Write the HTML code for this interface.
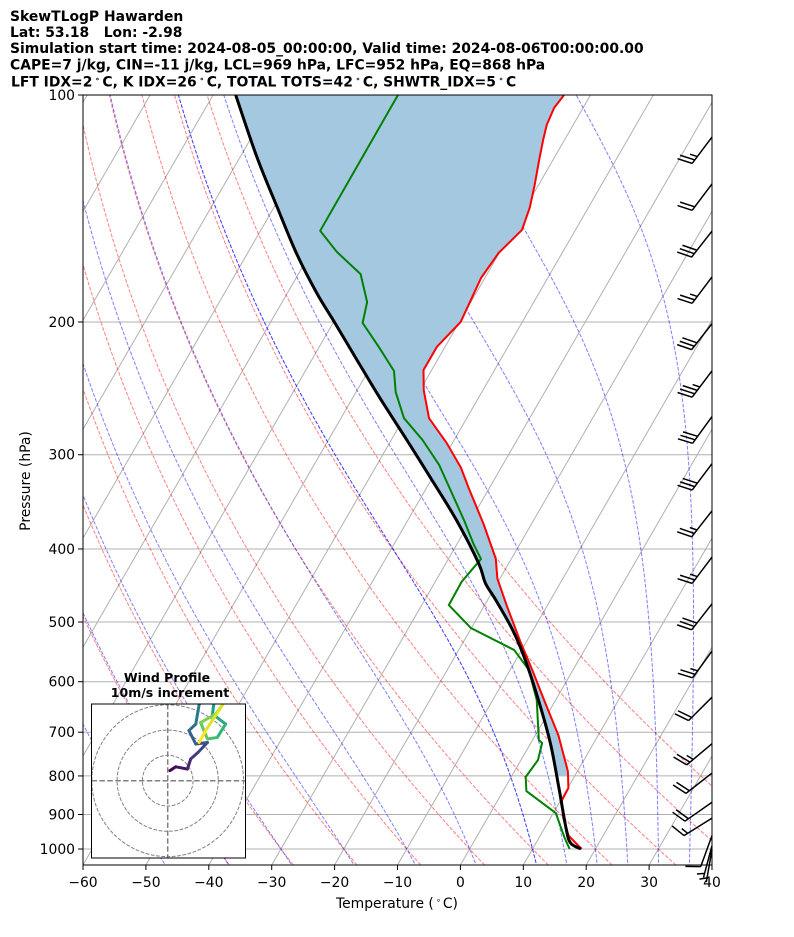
<!DOCTYPE html>
<html><head><meta charset="utf-8">
<style>
html,body{margin:0;padding:0;background:#fff;}
svg{display:block;font-family:"DejaVu Sans","Liberation Sans",sans-serif;}
</style></head>
<body>
<svg id="chart" width="794" height="937" viewBox="0 0 794 937" xmlns="http://www.w3.org/2000/svg">
<defs>
<clipPath id="plotclip"><rect x="83" y="95" width="629" height="770"/></clipPath>
<clipPath id="hodoclip"><rect x="91.5" y="704" width="154" height="154"/></clipPath>
</defs>
<rect x="0" y="0" width="794" height="937" fill="#fff"/>
<g font-weight="bold" font-size="13.9" fill="#000">
<text x="10" y="21">SkewTLogP Hawarden</text>
<text x="10" y="37" xml:space="preserve">Lat: 53.18   Lon: -2.98</text>
<text x="10" y="53">Simulation start time: 2024-08-05_00:00:00, Valid time: 2024-08-06T00:00:00.00</text>
<text x="10" y="69.5">CAPE=7 j/kg, CIN=-11 j/kg, LCL=969 hPa, LFC=952 hPa, EQ=868 hPa</text>
<text x="11" y="86.5">LFT IDX=2<tspan font-size="8" dx="2.5" dy="-5">∘</tspan><tspan dx="2.5" dy="5">C, K IDX=26</tspan><tspan font-size="8" dx="2.5" dy="-5">∘</tspan><tspan dx="2.5" dy="5">C, TOTAL TOTS=42</tspan><tspan font-size="8" dx="2.5" dy="-5">∘</tspan><tspan dx="2.5" dy="5">C, SHWTR_IDX=5</tspan><tspan font-size="8" dx="2.5" dy="-5">∘</tspan><tspan dx="2.5" dy="5">C</tspan></text>
</g>
<g id="grid" clip-path="url(#plotclip)"></g>
<g id="adiabats" clip-path="url(#plotclip)"></g>
<g id="profiles" clip-path="url(#plotclip)"></g>
<rect x="83" y="95" width="629" height="770" fill="none" stroke="#000" stroke-width="1"/>
<g id="axes" font-size="13.9" fill="#000"></g>
<text x="397" y="908" text-anchor="middle" font-size="13.9">Temperature (<tspan font-size="8" dx="2" dy="-5">∘</tspan><tspan dx="2" dy="5">C)</tspan></text>
<text transform="translate(30,481) rotate(-90)" text-anchor="middle" font-size="13.9">Pressure (hPa)</text>
<g id="barbs"></g>
<g id="hodo">
<text x="167" y="682" text-anchor="middle" font-size="12.5" font-weight="bold">Wind Profile</text>
<text x="170" y="697" text-anchor="middle" font-size="12.5" font-weight="bold">10m/s increment</text>
<rect x="91.5" y="704" width="154" height="154" fill="#fff" stroke="none"/>
<g id="hodoinner" clip-path="url(#hodoclip)"></g>
<rect x="91.5" y="704" width="154" height="154" fill="none" stroke="#000" stroke-width="1"/>
</g>
</svg>
<script>
// ---------- data ----------
const tempP = [100,104,109.6,114.7,121.9,131.7,141.2,151,162,174.8,200,215.8,231.6,246.4,268.3,289.5,312,333.3,370.8,412,438,475,530,582,640,707,789,830,863,911,960,1000];
const tempT = [-54.2,-54.6,-54.2,-53.4,-52.2,-50.6,-49.3,-48.5,-50.1,-50.6,-49.8,-51.3,-51.3,-49.4,-46.0,-40.9,-36.4,-33.1,-27.6,-22.5,-20.4,-16.5,-11.05,-6.2,-1.4,3.7,8.5,10.1,10.2,12.1,14.5,17.8];
const dewP = [100,151.4,161.5,172.8,188.2,200.6,215.9,232.3,247.7,268.2,286.9,309.5,334.1,366.2,395.3,412.5,426.6,442.5,474.8,509.2,544.5,578.9,634.6,716.9,723.5,762.1,802.6,837.8,896.1,967,1000];
const dewT = [-80.6,-80.5,-75.9,-70.1,-66.5,-65.3,-60.5,-55.9,-53.7,-50,-45,-40.1,-36,-31.1,-27.2,-24.8,-25.3,-25.8,-25.7,-20.1,-11.2,-7,-3,1.0,1.8,2.7,2.3,3.7,10.4,14.1,15.9];
const parcelP = [1000,982,938,828,723.5,635,561.5,512,467.5,444,417.9,366.2,320.8,286.9,252.5,224.6,200.6,183.2,162.2,140.6,120.7,100];
const parcelT = [17.7,15.5,13.4,8.5,3.1,-2.7,-8.5,-13.3,-18.7,-21.9,-24.8,-32.3,-40.5,-47.5,-55.6,-62.8,-69.7,-75.3,-82.2,-89.6,-97.4,-106.4];
const xTicks = [-60,-50,-40,-30,-20,-10,0,10,20,30,40];
const yTicks = [100,200,300,400,500,600,700,800,900,1000];
const barbP = [113.7,131.2,151.5,174.3,201,232.2,267,308.3,356,410,473,546.4,629,725,793,867,910,960,990,1002];
const barbDir = [217,217,218,217,218,217,216,217,218,217,218,216,225,230,232,235,238,200,195,190];
const barbSpd = [25,20,30,25,30,35,30,30,25,25,30,25,20,25,20,20,15,10,5,5];
const hodoU = [0.9,3.2,7.8,9.1,12.0,15.7,11.1,8.4,11.1,12.4,13.7,18.3,17.7,22.9,19.6,15.7,13.0,19.0,21.6,23.6,15.0,12.4];
const hodoV = [4.0,5.5,4.6,8.6,11.2,15.1,14.5,19.8,22.4,29.9,32.9,30.9,26.4,22.4,17.1,16.5,23.0,26.4,29.9,32.9,19.8,15.1];
const dryT0 = [-40,-30,-20,-10,0,10,20,30,40,50];
const moistT0 = [-50,-40,-30,-20,-10,0,10,10,15,20,25,30,35,40];

// ---------- axes ----------
const X0=83, X1=712, YT=95, YB=865, TMIN=-60, TMAX=40;
const PX = (X1-X0)/(TMAX-TMIN);
const DEC = 754;
const SK = Math.tan(30*Math.PI/180);
function yOf(p){ return YT + DEC*Math.log10(p/100); }
function xOf(T,p){ const y=yOf(p); return X0 + (T-TMIN)*PX + (YB-y)*SK; }
const NS="http://www.w3.org/2000/svg";
function mk(tag, attrs, parent){ const e=document.createElementNS(NS,tag); for(const k in attrs) e.setAttribute(k,attrs[k]); parent.appendChild(e); return e; }
function pathFrom(P,T){ let d=''; for(let i=0;i<P.length;i++){ d+=(i?'L':'M')+xOf(T[i],P[i]).toFixed(2)+','+yOf(P[i]).toFixed(2);} return d; }
function smoothPath(P,T){
  const pts=P.map((p,i)=>[xOf(T[i],p),yOf(p)]);
  let d='M'+pts[0][0].toFixed(2)+','+pts[0][1].toFixed(2);
  for(let i=0;i<pts.length-1;i++){
    const p0=pts[Math.max(i-1,0)],p1=pts[i],p2=pts[i+1],p3=pts[Math.min(i+2,pts.length-1)];
    const c1=[p1[0]+(p2[0]-p0[0])/6,p1[1]+(p2[1]-p0[1])/6];
    const c2=[p2[0]-(p3[0]-p1[0])/6,p2[1]-(p3[1]-p1[1])/6];
    d+='C'+c1[0].toFixed(2)+','+c1[1].toFixed(2)+' '+c2[0].toFixed(2)+','+c2[1].toFixed(2)+' '+p2[0].toFixed(2)+','+p2[1].toFixed(2);
  }
  return d;
}

const grid=document.getElementById('grid');
const PBOT = 100*Math.pow(10,(YB-YT)/DEC);
for(let T=-180;T<=40;T+=10){
  const l=mk('line',{x1:xOf(T,PBOT),y1:YB,x2:xOf(T,100),y2:YT,stroke:'#b0b0b0','stroke-width':1},grid);
  
  
}
yTicks.forEach(p=>{
  const l=mk('line',{x1:X0,y1:yOf(p),x2:X1,y2:yOf(p),stroke:'#b0b0b0','stroke-width':1},grid);
  
  
});

// adiabats
const adi=document.getElementById('adiabats');
const pGrid=[]; for(let p=PBOT;p>=99;p-=5) pGrid.push(p); pGrid.push(99);
dryT0.forEach(t0=>{
  const th=t0+273.15; const P=[],T=[];
  pGrid.forEach(p=>{P.push(p); T.push(th*Math.pow(p/1000,0.2857)-273.15);});
  const e=mk('path',{d:pathFrom(P,T),fill:'none',stroke:'rgba(255,0,0,0.5)','stroke-width':1,'stroke-dasharray':'3.7,1.6'},adi);
  
  
});
function dTdp(p,T){
  const Rd=287.04,Cp=1005.7,Lv=2.501e6,eps=0.622;
  const Tc=T-273.15; const es=6.112*Math.exp(17.67*Tc/(Tc+243.5));
  const rs=eps*es/(p-es);
  return (1/p)*(Rd*T+Lv*rs)/(Cp+(Lv*Lv*rs*eps/(Rd*T*T)));
}
function moist(t0){
  const up=[[1000,t0+273.15]], dn=[];
  let T=t0+273.15, p=1000, h=-5;
  while(p>99){ const k1=dTdp(p,T),k2=dTdp(p+h/2,T+h/2*k1),k3=dTdp(p+h/2,T+h/2*k2),k4=dTdp(p+h,T+h*k3); T+=h/6*(k1+2*k2+2*k3+k4); p+=h; up.push([p,T]); }
  T=t0+273.15; p=1000; h=5;
  while(p<PBOT+5){ const k1=dTdp(p,T),k2=dTdp(p+h/2,T+h/2*k1),k3=dTdp(p+h/2,T+h/2*k2),k4=dTdp(p+h,T+h*k3); T+=h/6*(k1+2*k2+2*k3+k4); p+=h; dn.push([p,T]); }
  const all=dn.reverse().concat(up);
  return [all.map(a=>a[0]), all.map(a=>a[1]-273.15)];
}
moistT0.forEach(t0=>{
  const [P,T]=moist(t0);
  const e=mk('path',{d:pathFrom(P,T),fill:'none',stroke:'rgba(0,0,255,0.5)','stroke-width':1,'stroke-dasharray':'3.7,1.6'},adi);
  
  
});

// profiles
const prof=document.getElementById('profiles');
function interp(P,T,p){
  const pts=P.map((v,i)=>[Math.log(v),T[i]]).sort((a,b)=>a[0]-b[0]);
  const lp=Math.log(p);
  if(lp<=pts[0][0]) return pts[0][1];
  for(let i=1;i<pts.length;i++){ if(lp<=pts[i][0]){ const f=(lp-pts[i-1][0])/(pts[i][0]-pts[i-1][0]); return pts[i-1][1]+f*(pts[i][1]-pts[i-1][1]); } }
  return pts[pts.length-1][1];
}
const fP=[]; for(let i=0;i<=200;i++) fP.push(100*Math.pow(8,i/200));
let fd='';
fP.forEach((p,i)=>{ fd+=(i?'L':'M')+xOf(interp(tempP,tempT,p),p).toFixed(2)+','+yOf(p).toFixed(2); });
for(let i=fP.length-1;i>=0;i--){ const p=fP[i]; fd+='L'+xOf(interp(parcelP,parcelT,p),p).toFixed(2)+','+yOf(p).toFixed(2); }
fd+='Z';
const fill=mk('path',{d:fd,fill:'rgb(165,200,225)',stroke:'none'},prof);


const tl=mk('path',{d:pathFrom(tempP,tempT),fill:'none',stroke:'#ff0000','stroke-width':2,'stroke-linejoin':'round'},prof);


const dl=mk('path',{d:pathFrom(dewP,dewT),fill:'none',stroke:'#008000','stroke-width':2,'stroke-linejoin':'round'},prof);


const pl=mk('path',{d:smoothPath(parcelP,parcelT),fill:'none',stroke:'#000','stroke-width':3,'stroke-linejoin':'round'},prof);



// axis ticks
const ax=document.getElementById('axes');
xTicks.forEach(t=>{
  const x=X0+(t-TMIN)*PX;
  const tk=mk('line',{x1:x,y1:YB,x2:x,y2:YB+5,stroke:'#000','stroke-width':1},ax);
  
  
  const tx=mk('text',{x:x,y:887,'text-anchor':'middle'},ax);
  tx.textContent=(t<0?'\u2212'+(-t):''+t);
  
  
});
yTicks.forEach(p=>{
  const y=yOf(p);
  const tk=mk('line',{x1:X0-5,y1:y,x2:X0,y2:y,stroke:'#000','stroke-width':1},ax);
  
  
  const tx=mk('text',{x:X0-8,y:y+5,'text-anchor':'end'},ax);
  tx.textContent=''+p;
  
  
});

// barbs
const bg=document.getElementById('barbs');
barbP.forEach((p,i)=>{
  const y=yOf(p), d=barbDir[i]*Math.PI/180;
  const ux=Math.sin(d), uy=-Math.cos(d), L=33;
  const ex=X1+ux*L, ey=y+uy*L;
  const px=-uy, py=ux;
  let s='M'+X1+','+y.toFixed(2)+'L'+ex.toFixed(2)+','+ey.toFixed(2);
  let spd=barbSpd[i], k=0;
  const nf=Math.floor(spd/10), nh=(spd%10)>=5?1:0;
  for(let j=0;j<nf;j++){ const qx=ex-ux*k*4.3, qy=ey-uy*k*4.3; s+='M'+qx.toFixed(2)+','+qy.toFixed(2)+'L'+(qx+px*14.5+ux*5).toFixed(2)+','+(qy+py*14.5+uy*5).toFixed(2); k++; }
  if(nh){ if(nf===0) k=1; const qx=ex-ux*k*4.3, qy=ey-uy*k*4.3; s+='M'+qx.toFixed(2)+','+qy.toFixed(2)+'L'+(qx+px*7.2+ux*2.5).toFixed(2)+','+(qy+py*7.2+uy*2.5).toFixed(2); }
  const b=mk('path',{d:s,fill:'none',stroke:'#000','stroke-width':1.5},bg);
  
  
});

// hodograph
const hg=document.getElementById('hodoinner');
const HX=167.7, HY=780.7, HS=2.53;
[25.3,50.6,75.9].forEach(r=>{
  const c=mk('circle',{cx:HX,cy:HY,r:r,fill:'none',stroke:'#808080','stroke-width':1,'stroke-dasharray':'3.7,1.6'},hg);
  
  
});
const ch=mk('path',{d:'M91.5,'+HY+'H245.5M'+HX+',704V858',stroke:'#808080','stroke-width':1.5,'stroke-dasharray':'5.5,2.4',fill:'none'},hg);


const vir=[[68,1,84],[72,40,120],[62,73,137],[49,104,142],[38,130,142],[31,158,137],[53,183,121],[109,205,89],[180,222,44],[253,231,37]];
function vcol(f){ const x=f*(vir.length-1), i=Math.min(Math.floor(x),vir.length-2), g=x-i; const c=vir[i].map((v,j)=>Math.round(v+g*(vir[i+1][j]-v))); return 'rgb('+c.join(',')+')'; }
for(let i=0;i<hodoU.length-1;i++){
  const s=mk('line',{x1:HX+hodoU[i]*HS,y1:HY-hodoV[i]*HS,x2:HX+hodoU[i+1]*HS,y2:HY-hodoV[i+1]*HS,stroke:vcol(i/(hodoU.length-2)),'stroke-width':3,'stroke-linecap':'round'},hg);
  
  
}
</script>
</body></html>
